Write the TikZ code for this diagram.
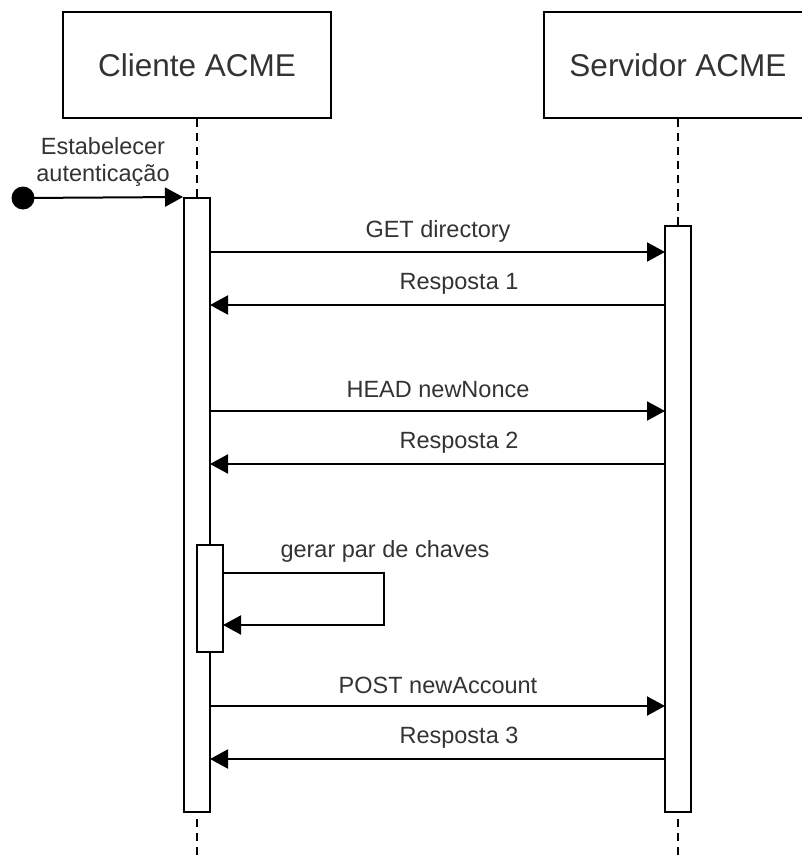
\documentclass[tikz,border=0pt]{standalone}
\usepackage{fontspec}
\setmainfont{Liberation Sans}
\usetikzlibrary{arrows.meta}
\definecolor{txt}{HTML}{333333}
\tikzset{
  actor/.style={draw, line width=2pt, minimum width=268pt, minimum height=106pt, inner sep=0pt, font=\fontsize{31.5}{36}\selectfont, text=txt},
  act/.style={draw, fill=white, line width=2pt, minimum width=26pt, inner sep=0pt},
  life/.style={line width=2pt, dash pattern=on 8pt off 6pt},
  msg/.style={line width=2pt, -{Triangle[length=18pt,width=19pt]}},
  lbl/.style={font=\fontsize{23.5}{27}\selectfont, text=txt, inner sep=0pt}
}
\begin{document}
\begin{tikzpicture}[x=1pt,y=-1pt]
\useasboundingbox (0,0) rectangle (801,861);
% actors
\node[actor] (cli) at (197,65) {Cliente ACME};
\node[actor] (srv) at (678,65) {Servidor ACME};
% lifelines
\coordinate (cliend) at (197,861);
\coordinate (srvend) at (678,861);
\draw[life] (cli.south) -- (cliend);
\draw[life] (srv.south) -- (srvend);
% activations
\node[act, minimum height=614pt] (ca) at (197,505) {};
\node[act, minimum height=586pt] (sa) at (678,519) {};
\node[act, minimum height=107pt] (ca2) at (210,598.5) {};
% found message
\node[circle, fill=black, minimum size=23pt, inner sep=0pt] (start) at (23,198) {};
\node[lbl, align=center] (estlbl) at (103,162) {Estabelecer\\autenticação};
\draw[msg] (start.center) -- (ca.north west);
% messages
\coordinate (m1a) at (210,252); \coordinate (m1b) at (665,252);
\coordinate (m2a) at (210,305); \coordinate (m2b) at (665,305);
\coordinate (m3a) at (210,411); \coordinate (m3b) at (665,411);
\coordinate (m4a) at (210,464); \coordinate (m4b) at (665,464);
\coordinate (m5a) at (210,706); \coordinate (m5b) at (665,706);
\coordinate (m6a) at (210,759); \coordinate (m6b) at (665,759);
\draw[msg] (m1a) -- (m1b);
\draw[msg] (m2b) -- (m2a);
\draw[msg] (m3a) -- (m3b);
\draw[msg] (m4b) -- (m4a);
\draw[msg] (m5a) -- (m5b);
\draw[msg] (m6b) -- (m6a);
\node[lbl] (l1) at (438,231) {GET directory};
\node[lbl] (l2) at (459,284) {Resposta 1};
\node[lbl] (l3) at (438,390) {HEAD newNonce};
\node[lbl] (l4) at (459,443) {Resposta 2};
\node[lbl] (l5) at (438,685) {POST newAccount};
\node[lbl] (l6) at (459,738) {Resposta 3};
% self call
\coordinate (s1) at (223,573);
\coordinate (s2) at (384,573);
\coordinate (s3) at (384,625);
\coordinate (s4) at (223,625);
\draw[msg] (s1) -- (s2) -- (s3) -- (s4);
\node[lbl] (sl) at (385,551) {gerar par de chaves};
\end{tikzpicture}
\end{document}
